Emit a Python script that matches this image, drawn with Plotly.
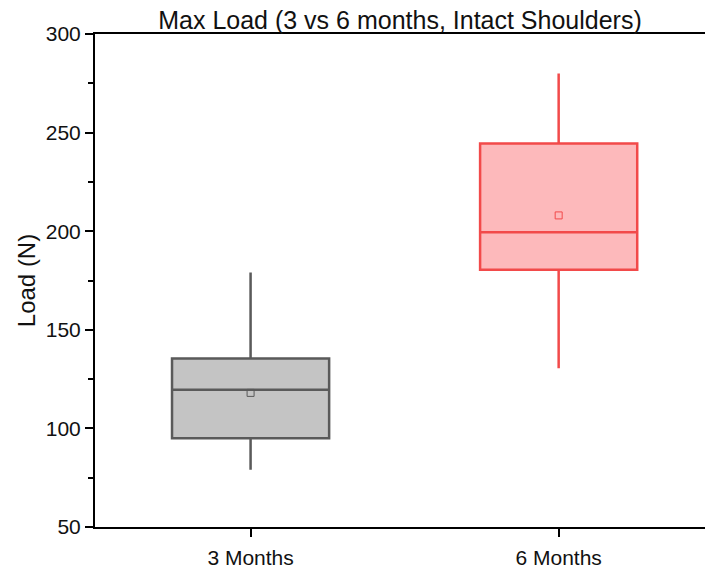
import plotly.graph_objects as go

# Summary statistics of max load (N) per time point
groups = ["3 Months", "6 Months"]
q1 = [95, 180.5]
median = [119.6, 199.5]
q3 = [135.5, 244.5]
lower_whisker = [79, 130.5]
upper_whisker = [179, 280]
means = [118, 208]

line_colors = ["#5a5a5a", "#f24a4a"]
fill_colors = ["#c4c4c4", "#fdb9bb"]

fig = go.Figure()

for i, g in enumerate(groups):
    fig.add_trace(go.Box(
        x=[i],
        q1=[q1[i]], median=[median[i]], q3=[q3[i]],
        lowerfence=[lower_whisker[i]], upperfence=[upper_whisker[i]],
        width=0.51,
        whiskerwidth=0,
        fillcolor=fill_colors[i],
        line=dict(color=line_colors[i], width=2.5),
        boxpoints=False,
        hoverinfo="skip",
        showlegend=False,
        name=g,
    ))
    fig.add_trace(go.Scatter(
        x=[i], y=[means[i]],
        mode="markers",
        marker=dict(symbol="square-open", size=7,
                    color=line_colors[i], line=dict(width=1)),
        showlegend=False,
        hoverinfo="skip",
    ))

font_family = "Liberation Sans, Arial, sans-serif"

fig.update_layout(
    width=705, height=575,
    margin=dict(l=95, r=0, t=34, b=48),
    paper_bgcolor="white",
    plot_bgcolor="white",
    font=dict(family=font_family, color="#111111", size=21),
    title=dict(
        text="Max Load (3 vs 6 months, Intact Shoulders)",
        x=0.5, xref="paper", xanchor="center",
        y=0.965, yref="container", yanchor="middle",
        font=dict(size=25, family=font_family, color="#111111"),
    ),
)

fig.update_xaxes(
    range=[-0.505, 1.475],
    tickmode="array",
    tickvals=[0, 1],
    ticktext=groups,
    ticks="outside", ticklen=8, tickwidth=2, tickcolor="black",
    showline=True, linecolor="black", linewidth=2,
    mirror=True,
    showgrid=False, zeroline=False,
    tickfont=dict(size=21),
    ticklabelstandoff=3,
)

fig.update_yaxes(
    range=[50, 300],
    tickmode="array",
    tickvals=[50, 100, 150, 200, 250, 300],
    ticks="outside", ticklen=8, tickwidth=2, tickcolor="black",
    minor=dict(tickvals=[75, 125, 175, 225, 275], ticks="outside",
               ticklen=5, tickwidth=2, tickcolor="black"),
    showline=True, linecolor="black", linewidth=2,
    showgrid=False, zeroline=False,
    title=dict(text="Load (N)", font=dict(size=24), standoff=3),
    tickfont=dict(size=21),
)

fig.write_html("out.html")
